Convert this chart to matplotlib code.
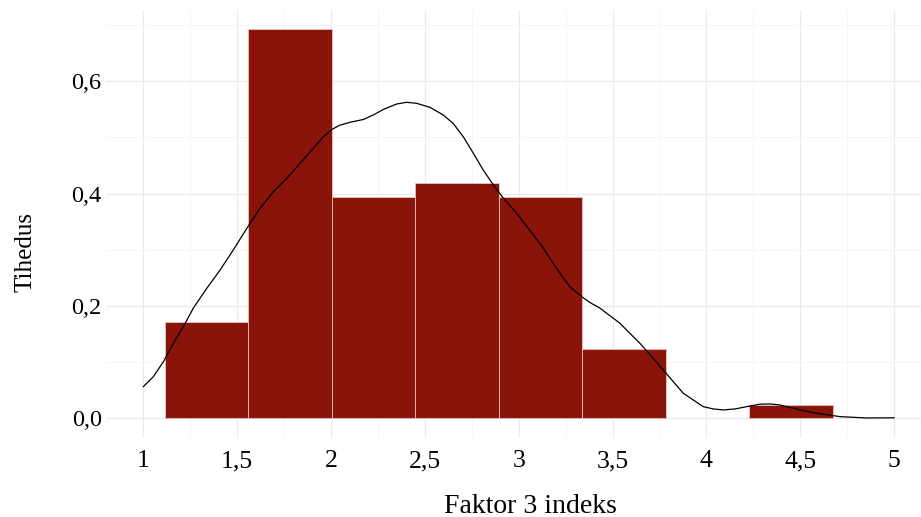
import numpy as np
import matplotlib
matplotlib.use("Agg")
import matplotlib.pyplot as plt
from matplotlib.ticker import MultipleLocator, FuncFormatter

# =====================================================
# Data
# =====================================================

bin_edges = [1.114, 1.559, 2.004, 2.449, 2.894, 3.339, 3.784, 4.229, 4.674]
bin_density = [0.172, 0.6925, 0.394, 0.419, 0.394, 0.1228, 0.0, 0.0237]

kde_x = [1.0, 1.053, 1.107, 1.160, 1.213, 1.266, 1.338, 1.409, 1.479, 1.551,
         1.622, 1.693, 1.764, 1.835, 1.906, 1.959, 2.003, 2.048, 2.101, 2.172,
         2.225, 2.279, 2.350, 2.403, 2.456, 2.527, 2.598, 2.651, 2.705, 2.758,
         2.811, 2.865, 2.918, 2.989, 3.051, 3.113, 3.220, 3.273, 3.336, 3.380,
         3.433, 3.540, 3.593, 3.646, 3.709, 3.770, 3.824, 3.877, 3.930, 3.983,
         4.037, 4.090, 4.152, 4.215, 4.285, 4.339, 4.392, 4.463, 4.525, 4.588,
         4.712, 4.854, 5.0]
kde_y = [0.0563, 0.074, 0.1008, 0.1335, 0.163, 0.196, 0.2314, 0.264, 0.2996, 0.338,
         0.374, 0.4035, 0.427, 0.454, 0.481, 0.501, 0.514, 0.522, 0.527, 0.532,
         0.540, 0.550, 0.5596, 0.5626, 0.5608, 0.5537, 0.540, 0.525, 0.501, 0.472,
         0.442, 0.4154, 0.392, 0.365, 0.338, 0.3115, 0.258, 0.234, 0.2165, 0.206,
         0.196, 0.169, 0.151, 0.1335, 0.1097, 0.086, 0.065, 0.0445, 0.0326, 0.0207,
         0.0166, 0.0148, 0.0166, 0.0207, 0.025, 0.0255, 0.0237, 0.0178, 0.013, 0.0089,
         0.0029, 0.0005, 0.0008]

x_label = "Faktor 3 indeks"
y_label = "Tihedus"

# =====================================================
# Plot
# =====================================================

plt.rcParams["font.family"] = ["Liberation Serif", "DejaVu Serif"]

fig = plt.figure(figsize=(9.21, 5.17), dpi=100)
ax = fig.add_axes([0.1149, 0.1534, 0.8966, 0.8273])

lefts = np.array(bin_edges[:-1])
widths = np.diff(bin_edges)
heights = np.array(bin_density)
keep = heights > 0
ax.bar(lefts[keep], heights[keep], width=widths[keep], align="edge",
       color="#8B140A", edgecolor="#E6C6C2", linewidth=0.6, zorder=2)

ax.plot(kde_x, kde_y, color="black", linewidth=0.9, zorder=3)

ax.set_xlim(0.8, 5.2)
ax.set_ylim(-0.0346, 0.727)

ax.xaxis.set_major_locator(MultipleLocator(0.5))
ax.xaxis.set_minor_locator(MultipleLocator(0.25))
ax.yaxis.set_major_locator(MultipleLocator(0.2))
ax.yaxis.set_minor_locator(MultipleLocator(0.1))

ax.xaxis.set_major_formatter(FuncFormatter(lambda v, p: f"{v:g}".replace(".", ",")))
ax.yaxis.set_major_formatter(FuncFormatter(lambda v, p: f"{v:.1f}".replace(".", ",")))

ax.grid(which="major", color="#EBEBEB", linewidth=0.9, zorder=0)
ax.grid(which="minor", color="#F4F4F4", linewidth=0.6, zorder=0)
ax.set_axisbelow(True)

for s in ax.spines.values():
    s.set_visible(False)

ax.tick_params(which="both", length=0)
ax.tick_params(axis="x", labelsize=18.5, pad=9)
ax.tick_params(axis="y", labelsize=17.5, pad=3)

ax.set_xlabel(x_label, fontsize=20)
ax.set_ylabel(y_label, fontsize=18)
ax.xaxis.set_label_coords(0.5137, -0.131)
ax.yaxis.set_label_coords(-0.084, 0.434)

fig.savefig("out.png", dpi=100)
